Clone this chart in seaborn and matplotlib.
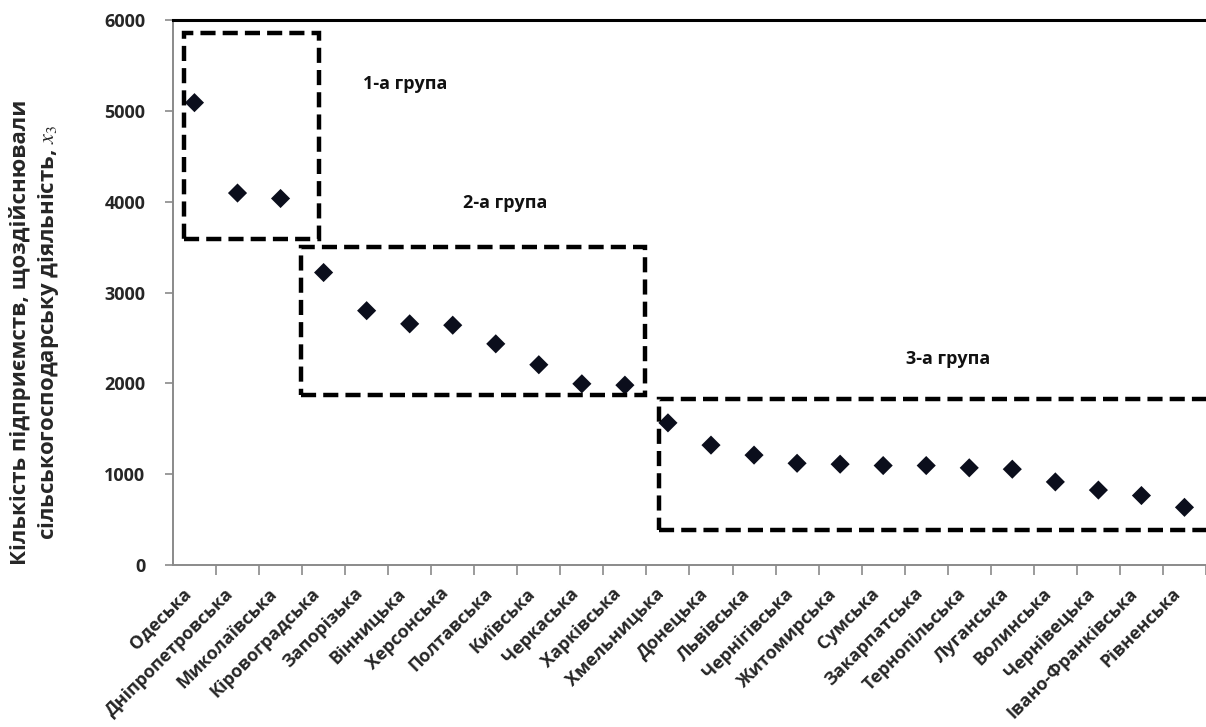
import matplotlib
matplotlib.use("Agg")
import matplotlib.pyplot as plt
import matplotlib.patches as patches
import seaborn as sns
import pandas as pd
import numpy as np

regions = ["Одеська", "Дніпропетровська", "Миколаївська", "Кіровоградська",
           "Запорізька", "Вінницька", "Херсонська", "Полтавська", "Київська",
           "Черкаська", "Харківська", "Хмельницька", "Донецька", "Львівська",
           "Чернігівська", "Житомирська", "Сумська", "Закарпатська",
           "Тернопільська", "Луганська", "Волинська", "Чернівецька",
           "Івано-Франківська", "Рівненська"]
enterprises = [5090, 4095, 4035, 3220, 2800, 2655, 2640, 2435, 2205, 1995,
               1980, 1565, 1320, 1210, 1120, 1110, 1095, 1095, 1070, 1055,
               915, 825, 765, 635]
group_names = ["1-а група", "2-а група", "3-а група"]
y_ticks = [0, 1000, 2000, 3000, 4000, 5000, 6000]

# annotation layout (data coords): box x0, x1, y0, y1 and label position
boxes = [(-0.24, 2.89, 3590, 5862), (2.47, 10.47, 1872, 3506), (10.8, 23.8, 385, 1825)]
label_pos = [(4.89, 5297), (7.22, 3987), (17.52, 2269)]

sns.set_theme(style="white")
plt.rcParams["font.family"] = ["Open Sans", "DejaVu Sans"]
plt.rcParams["mathtext.fontset"] = "stix"

df = pd.DataFrame({"region": regions, "count": enterprises})

fig = plt.figure(figsize=(12.06, 7.27), dpi=100)
ax = fig.add_axes([0.1434, 0.2228, 0.8566, 0.7497])

sns.scatterplot(data=df, x="region", y="count", marker="D", s=95,
                color="#0b0e1c", edgecolor="none", ax=ax, zorder=3)

for (x0, x1, y0, y1) in boxes:
    ax.add_patch(patches.Rectangle((x0, y0), x1 - x0, y1 - y0, fill=False,
                                   edgecolor="black", lw=3.2,
                                   linestyle=(0, (3.4, 1.6)), zorder=4))
for name, (lx, ly) in zip(group_names, label_pos):
    ax.text(lx, ly, name, ha="center", va="center", fontsize=13,
            fontweight="bold", color="#111111")

ax.set_xlim(-0.5, 23.3)
ax.set_ylim(0, 6000)
ax.set_yticks(y_ticks)
ax.set_yticklabels([str(t) for t in y_ticks], fontsize=13, fontweight="bold")

ax.set_xticks(range(len(regions)))
ax.set_xticklabels(regions, rotation=45, ha="right", va="top",
                   fontsize=13, fontweight="bold", rotation_mode="default")
ax.set_xticks(np.arange(0.5, len(regions), 1.0), minor=True)
ax.tick_params(axis="x", which="major", length=0, pad=14)
ax.tick_params(axis="x", which="minor", length=7, width=1.2, color="#8a8a8a",
               direction="out", bottom=True)
ax.tick_params(axis="y", length=6, width=1.2, color="#8a8a8a",
               direction="out", left=True, pad=14)

ax.set_xlabel("")
ax.set_ylabel("Кількість підприємств, щоздійснювали\n"
              "сільськогосподарську діяльність, $x_3$",
              fontsize=16, fontweight="bold", linespacing=1.3)
ax.yaxis.set_label_coords(-0.108, 0.427)

for side in ["left", "bottom"]:
    ax.spines[side].set_color("#8a8a8a")
    ax.spines[side].set_linewidth(1.4)
ax.spines["top"].set_color("black")
ax.spines["top"].set_linewidth(2.2)
ax.spines["right"].set_visible(False)

fig.savefig("out.png", dpi=100)
